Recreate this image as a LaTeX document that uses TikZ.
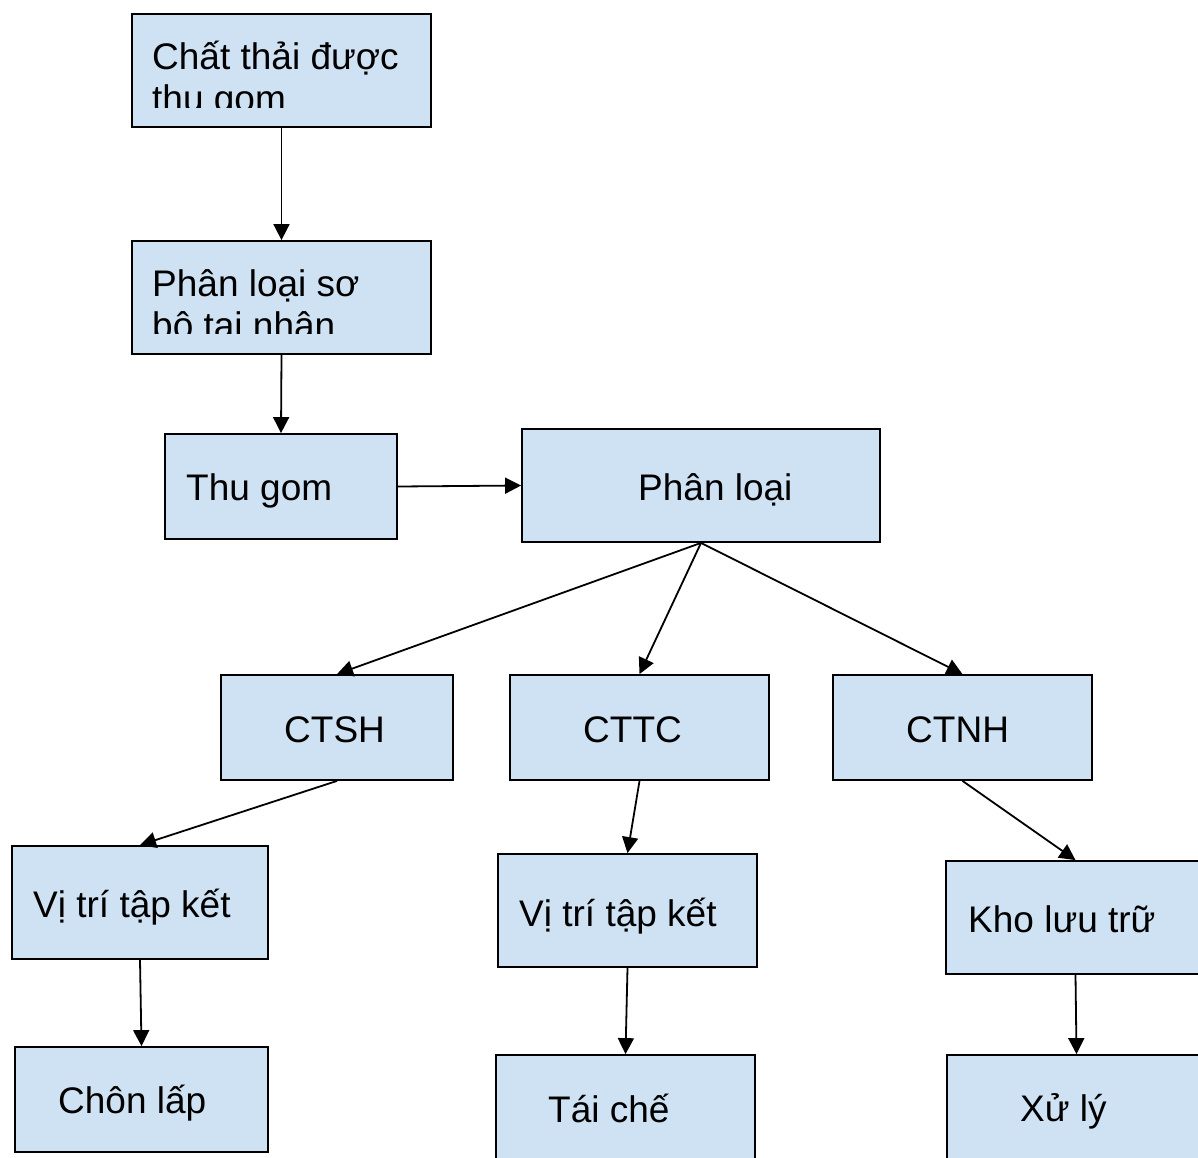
\documentclass[tikz,border=0pt]{standalone}
\usepackage{fontspec}
\setmainfont{Liberation Sans}
\usetikzlibrary{arrows.meta}
\definecolor{boxfill}{HTML}{CFE2F3}
\tikzset{
  box/.style={draw=black, fill=boxfill, line width=1.8pt, inner sep=0pt, rectangle},
  lbl/.style={inner sep=0pt, anchor=base west, font=\fontsize{37}{42}\selectfont},
  conn/.style={draw=black, line width=1.8pt, -{Triangle[length=16pt,width=16pt]}}
}
\begin{document}
\begin{tikzpicture}[x=1pt,y=-1pt]
\useasboundingbox (0,0) rectangle (1198,1157);
\clip (0,0) rectangle (1198,1157);
% boxes
\node[box, minimum width=299pt, minimum height=113pt] (n1) at (281.5,70.5) {};
\node[box, minimum width=299pt, minimum height=113pt] (n2) at (281.5,297.5) {};
\node[box, minimum width=232pt, minimum height=105pt] (n3) at (281,486.5) {};
\node[box, minimum width=358pt, minimum height=113pt] (n4) at (701,485.5) {};
\node[box, minimum width=232pt, minimum height=105pt] (n5) at (337,727.5) {};
\node[box, minimum width=259pt, minimum height=105pt] (n6) at (639.5,727.5) {};
\node[box, minimum width=259pt, minimum height=105pt] (n7) at (962.5,727.5) {};
\node[box, minimum width=256pt, minimum height=113pt] (n8) at (140,902.5) {};
\node[box, minimum width=259pt, minimum height=113pt] (n9) at (627.5,910.5) {};
\node[box, minimum width=259pt, minimum height=113pt] (n10) at (1075.5,917.5) {};
\node[box, minimum width=253pt, minimum height=105pt] (n11) at (141.5,1099.5) {};
\node[box, minimum width=259pt, minimum height=105pt] (n12) at (625.5,1107.5) {};
\node[box, minimum width=259pt, minimum height=105pt] (n13) at (1076.5,1107.5) {};
% clipped multi-line texts
\begin{scope}
\clip (133,15) rectangle (430,107);
\node[lbl] (t1a) at (152,69) {Chất thải được};
\node[lbl] (t1b) at (152,111) {thu gom};
\end{scope}
\begin{scope}
\clip (133,242) rectangle (430,333);
\node[lbl] (t2a) at (152,296) {Phân loại sơ};
\node[lbl] (t2b) at (152,338) {bộ tại nhân};
\end{scope}
% single texts
\node[lbl] (t3) at (186,500) {Thu gom};
\node[lbl] (t4) at (638,500) {Phân loại};
\node[lbl] (t5) at (284,742) {CTSH};
\node[lbl] (t6) at (583,742) {CTTC};
\node[lbl] (t7) at (906,742) {CTNH};
\node[lbl] (t8) at (33,917) {Vị trí tập kết};
\node[lbl] (t9) at (519,926) {Vị trí tập kết};
\node[lbl] (t10) at (968,932) {Kho lưu trữ};
\node[lbl] (t11) at (58,1113) {Chôn lấp};
\node[lbl] (t12) at (548,1122) {Tái chế};
\node[lbl] (t13) at (1020,1121) {Xử lý};
% connectors
\draw[conn] (n1.south) -- (n2.north);
\draw[conn] (n2.south) -- (n3.north);
\draw[conn] (n3.east) -- (n4.west);
\draw[conn] (n4.south) -- (n5.north);
\draw[conn] (n4.south) -- (n6.north);
\draw[conn] (n4.south) -- (n7.north);
\draw[conn] (n5.south) -- (n8.north);
\draw[conn] (n6.south) -- (n9.north);
\draw[conn] (n7.south) -- (n10.north);
\draw[conn] (n8.south) -- (n11.north);
\draw[conn] (n9.south) -- (n12.north);
\draw[conn] (n10.south) -- (n13.north);
\end{tikzpicture}
\end{document}
